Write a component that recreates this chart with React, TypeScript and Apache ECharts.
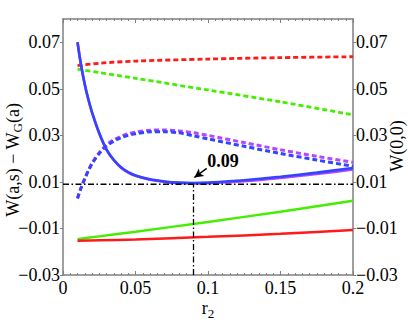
import React, { useEffect, useRef } from "react";
import * as echarts from "echarts";

// r2 sampling for the curved series
const rValues = [0.01, 0.0125, 0.015, 0.0175, 0.02, 0.025, 0.03, 0.035, 0.04, 0.045, 0.05, 0.06, 0.07, 0.08, 0.09, 0.1, 0.125, 0.15, 0.175, 0.2];
const blueSolid = [0.07, 0.06, 0.052, 0.0455, 0.04, 0.031, 0.024, 0.0195, 0.0163, 0.0142, 0.0128, 0.0111, 0.0102, 0.0097, 0.0095, 0.0097, 0.0107, 0.0122, 0.014, 0.016];
const violetSolid = [0.07, 0.06, 0.0519, 0.0453, 0.0398, 0.0308, 0.0238, 0.0193, 0.0161, 0.014, 0.0126, 0.0109, 0.01, 0.0095, 0.0093, 0.0094, 0.0103, 0.0117, 0.0134, 0.0153];
const blueDashed = [0.0029, 0.0075, 0.0113, 0.0148, 0.0178, 0.0222, 0.0254, 0.0275, 0.029, 0.03, 0.0307, 0.0315, 0.0316, 0.0311, 0.0298, 0.0285, 0.0253, 0.0222, 0.0194, 0.0167];
const violetDashed = [0.003, 0.0076, 0.0115, 0.015, 0.0181, 0.0226, 0.0259, 0.0281, 0.0296, 0.0307, 0.0314, 0.0322, 0.0323, 0.0319, 0.0311, 0.03, 0.0269, 0.0238, 0.021, 0.0184];

// r2 sampling for the near-straight series
const coarseR = [0.01, 0.025, 0.05, 0.1, 0.15, 0.2];
const redDashed = [0.06, 0.061, 0.0619, 0.0628, 0.0634, 0.0638];
const greenDashed = [0.0585, 0.057, 0.0545, 0.0495, 0.0444, 0.0388];
const greenSolid = [-0.0146, -0.0134, -0.0114, -0.0072, -0.0028, 0.0019];
const redSolid = [-0.0153, -0.0151, -0.0147, -0.0136, -0.0123, -0.0107];

// reference lines and annotation
const minLevel = 0.009;
const minR = 0.09;
const annotationText = "0.09";
const annotationAt = [0.1103, 0.0189];
const arrowFrom = [0.0991, 0.0158];
const arrowTo = [0.0906, 0.0119];

// axes
const xMin = 0;
const xMax = 0.2;
const xInterval = 0.05;
const yMin = -0.03;
const yMax = 0.08;
const yTicks = [-0.03, -0.01, 0.01, 0.03, 0.05, 0.07];

const FONT = "'Times New Roman', 'Liberation Serif', Times, serif";
const AXIS_GRAY = "#7f7f7f";
const RED = "#ff1a1a";
const GREEN = "#44ee00";
const BLUE = "#3344ff";
const VIOLET = "#b347ff";

const pairs = (xs: number[], ys: number[]) => xs.map((x, i) => [x, ys[i]]);
const fmt = (v: number) => String(Number(v.toFixed(4))).replace("-", "\u2212");

export default function App() {
  const ref = useRef<HTMLDivElement>(null);
  useEffect(() => {
    if (!ref.current) return;
    const chart = echarts.init(ref.current, null, { renderer: "svg" });

    const lineSeries = (name: string, data: number[][], color: string, dashed: boolean, width: number) => ({
      name,
      type: "line",
      data,
      smooth: 0.3,
      showSymbol: false,
      symbol: "none",
      lineStyle: { color, width, type: dashed ? [5, 3] : "solid", cap: "butt" },
      z: 3,
    });

    const xAxisBase = {
      type: "value",
      min: xMin,
      max: xMax,
      interval: xInterval,
      axisLine: { show: true, onZero: false, lineStyle: { color: AXIS_GRAY, width: 1.5 } },
      axisTick: { show: true, inside: true, length: 4, lineStyle: { color: AXIS_GRAY, width: 1 } },
      minorTick: { show: true, splitNumber: 10, length: 2, lineStyle: { color: AXIS_GRAY, width: 1 } },
      splitLine: { show: false },
      minorSplitLine: { show: false },
    };
    const yAxisBase = {
      type: "value",
      min: yMin,
      max: yMax,
      axisLine: { show: true, onZero: false, lineStyle: { color: AXIS_GRAY, width: 1.5 } },
      axisTick: { show: true, inside: false, length: 3, customValues: yTicks, lineStyle: { color: AXIS_GRAY, width: 1 } },
      splitLine: { show: false },
      axisLabel: {
        customValues: yTicks,
        color: "#000",
        fontFamily: FONT,
        fontSize: 18,
        margin: 3,
        formatter: (v: number) => fmt(v),
      },
    };

    chart.setOption({
      animation: false,
      backgroundColor: "#fff",
      grid: { left: 63, top: 19, width: 290, height: 256, containLabel: false },
      xAxis: [
        {
          ...xAxisBase,
          position: "bottom",
          axisLabel: { color: "#000", fontFamily: FONT, fontSize: 18, margin: 4, formatter: (v: number) => fmt(v) },
        },
        { ...xAxisBase, position: "top", axisLabel: { show: false } },
      ],
      yAxis: [
        { ...yAxisBase, position: "left" },
        { ...yAxisBase, position: "right" },
      ],
      series: [
        lineSeries("red dashed", pairs(coarseR, redDashed), RED, true, 2.8),
        lineSeries("green dashed", pairs(coarseR, greenDashed), GREEN, true, 2.8),
        lineSeries("violet dashed", pairs(rValues, violetDashed), VIOLET, true, 3),
        lineSeries("blue dashed", pairs(rValues, blueDashed), BLUE, true, 3),
        lineSeries("green solid", pairs(coarseR, greenSolid), GREEN, false, 2.5),
        lineSeries("red solid", pairs(coarseR, redSolid), RED, false, 2.5),
        lineSeries("violet solid", pairs(rValues, violetSolid), VIOLET, false, 2.6),
        lineSeries("blue solid", pairs(rValues, blueSolid), BLUE, false, 2.6),
        {
          name: "min level",
          type: "line",
          data: [[xMin, minLevel], [xMax, minLevel]],
          showSymbol: false,
          symbol: "none",
          lineStyle: { color: "#000", width: 1.3, type: [6, 2.5, 1.5, 2.5] },
          z: 4,
        },
        {
          name: "min r",
          type: "line",
          data: [[minR, yMin], [minR, minLevel]],
          showSymbol: false,
          symbol: "none",
          lineStyle: { color: "#000", width: 1.3, type: [6, 2.5, 1.5, 2.5] },
          z: 4,
          markLine: {
            silent: true,
            symbol: ["none", "arrow"],
            symbolSize: [7, 9],
            label: { show: false },
            lineStyle: { color: "#000", width: 1.5, type: "solid" },
            data: [[{ coord: arrowFrom }, { coord: arrowTo }]],
          },
          markPoint: {
            silent: true,
            symbol: "circle",
            symbolSize: 0,
            data: [{ coord: annotationAt }],
            label: {
              show: true,
              position: "inside",
              formatter: annotationText,
              color: "#000",
              fontFamily: FONT,
              fontWeight: "bold",
              fontSize: 18,
            },
          },
        },
      ],
      graphic: [
        {
          type: "text",
          x: 13,
          y: 160,
          rotation: Math.PI / 2,
          style: {
            text: "W(a,s) \u2212 W{sub|G}(a)",
            fontFamily: FONT,
            fontSize: 18,
            fill: "#000",
            align: "center",
            verticalAlign: "middle",
            rich: { sub: { fontFamily: FONT, fontSize: 13, padding: [8, 0, 0, 0], fill: "#000" } },
          },
        },
        {
          type: "text",
          x: 397,
          y: 146,
          rotation: Math.PI / 2,
          style: {
            text: "W(0,0)",
            fontFamily: FONT,
            fontSize: 18,
            fill: "#000",
            align: "center",
            verticalAlign: "middle",
          },
        },
        {
          type: "text",
          x: 208,
          y: 308,
          style: {
            text: "r{sub|2}",
            fontFamily: FONT,
            fontSize: 18,
            fill: "#000",
            align: "center",
            verticalAlign: "middle",
            rich: { sub: { fontFamily: FONT, fontSize: 13, padding: [10, 0, 0, 0], fill: "#000" } },
          },
        },
      ],
    });
    return () => chart.dispose();
  }, []);
  return <div ref={ref} style={{ position: "fixed", left: 0, top: 0, width: 408, height: 332 }} />;
}
